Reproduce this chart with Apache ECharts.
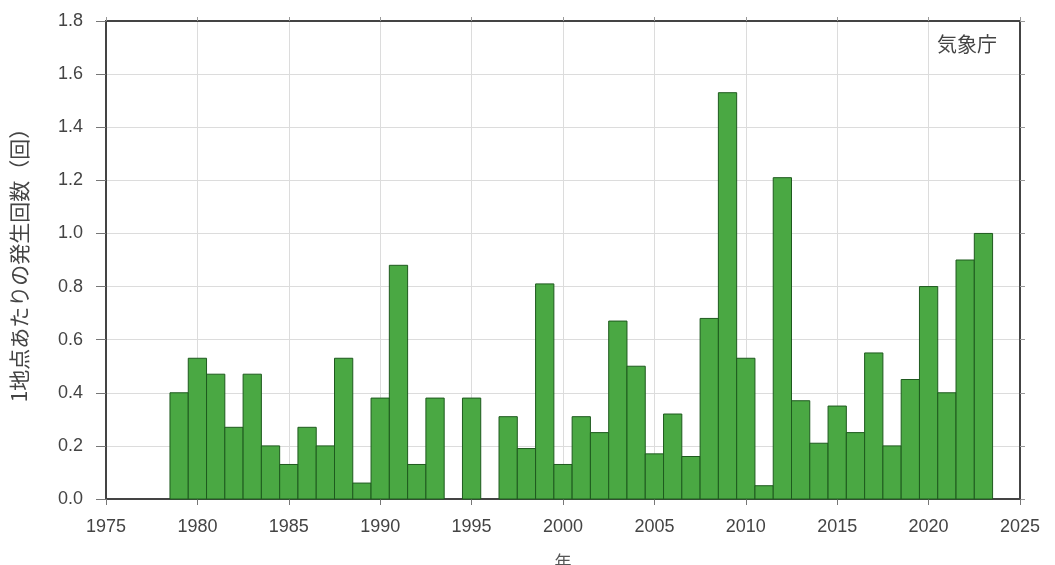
<!DOCTYPE html>
<html><head><meta charset="utf-8">
<script src="https://cdn.jsdelivr.net/npm/echarts@6/dist/echarts.min.js"></script>
<style>html,body{margin:0;padding:0;background:#fff}#c{width:1055px;height:565px}</style>
</head><body><div id="c"></div>
<script>
const years = [1979,1980,1981,1982,1983,1984,1985,1986,1987,1988,1989,1990,1991,1992,1993,1994,1995,1996,1997,1998,1999,2000,2001,2002,2003,2004,2005,2006,2007,2008,2009,2010,2011,2012,2013,2014,2015,2016,2017,2018,2019,2020,2021,2022,2023];
const counts = [0.40,0.53,0.47,0.27,0.47,0.20,0.13,0.27,0.20,0.53,0.06,0.38,0.88,0.13,0.38,0,0.38,0,0.31,0.19,0.81,0.13,0.31,0.25,0.67,0.50,0.17,0.32,0.16,0.68,1.53,0.53,0.05,1.21,0.37,0.21,0.35,0.25,0.55,0.20,0.45,0.80,0.40,0.90,1.00];
const yTicks = [0,0.2,0.4,0.6,0.8,1.0,1.2,1.4,1.6,1.8];
const xTicks = [1975,1980,1985,1990,1995,2000,2005,2010,2015,2020,2025];
const yName = '1地点あたりの発生回数（回）';
const xName = '年';
const credit = '気象庁';

const font = '"Liberation Sans", Arial, "Noto Sans CJK JP", sans-serif';
const cjk = '"Noto Sans CJK JP", sans-serif';
const chart = echarts.init(document.getElementById('c'), null, {renderer:'canvas'});
const data = years.map((y,i)=>[y,counts[i]]).filter(d=>d[1]>0);
chart.setOption({
  animation:false,
  backgroundColor:'#fff',
  grid:{left:106,right:35,top:21,bottom:66,outerBoundsMode:'none',containLabel:false},
  xAxis:[{
    type:'value',min:xTicks[0],max:xTicks[xTicks.length-1],interval:5,
    name:xName,nameLocation:'middle',nameGap:54,
    nameTextStyle:{color:'#555',fontSize:17,fontFamily:cjk},
    axisLine:{onZero:false,lineStyle:{color:'#444',width:2}},
    axisTick:{show:true,length:6,lineStyle:{color:'#777'}},
    axisLabel:{color:'#444',fontSize:18,fontFamily:font,margin:19,formatter:v=>String(v)},
    splitLine:{show:true,lineStyle:{color:'#dcdcdc',width:1}}
  },{
    type:'value',position:'top',min:xTicks[0],max:xTicks[xTicks.length-1],interval:5,
    axisLine:{show:true,onZero:false,lineStyle:{color:'#444',width:2}},
    axisTick:{show:true,length:4,lineStyle:{color:'#999'}},
    axisLabel:{show:false},splitLine:{show:false}
  }],
  yAxis:[{
    type:'value',min:0,max:1.8,interval:0.2,
    name:yName,nameLocation:'middle',nameGap:76,nameRotate:90,
    nameTextStyle:{color:'#444',fontSize:21,fontFamily:cjk},
    axisLine:{show:true,onZero:false,lineStyle:{color:'#444',width:2}},
    axisTick:{show:true,length:10,lineStyle:{color:'#777'}},
    axisLabel:{color:'#444',fontSize:18,fontFamily:font,margin:23,formatter:v=>v.toFixed(1)},
    splitLine:{show:true,lineStyle:{color:'#dcdcdc',width:1}}
  },{
    type:'value',position:'right',min:0,max:1.8,interval:0.2,
    axisLine:{show:true,onZero:false,lineStyle:{color:'#444',width:2}},
    axisTick:{show:true,length:5,lineStyle:{color:'#999'}},
    axisLabel:{show:false},splitLine:{show:false}
  }],
  graphic:[{
    type:'text',x:937,y:34,
    style:{text:credit,fill:'#444',fontSize:20,fontFamily:cjk}
  }],
  series:[{
    type:'custom',
    data:data,
    renderItem:function(params,api){
      const x=api.value(0), v=api.value(1);
      const p1=api.coord([x-0.5,v]);
      const p2=api.coord([x+0.5,0]);
      return {type:'rect',shape:{x:p1[0],y:p1[1],width:p2[0]-p1[0],height:p2[1]-p1[1]},
        style:{fill:'#4aa843',stroke:'#1e5a1e',lineWidth:1}};
    },
    encode:{x:0,y:1}
  }]
});
</script></body></html>
